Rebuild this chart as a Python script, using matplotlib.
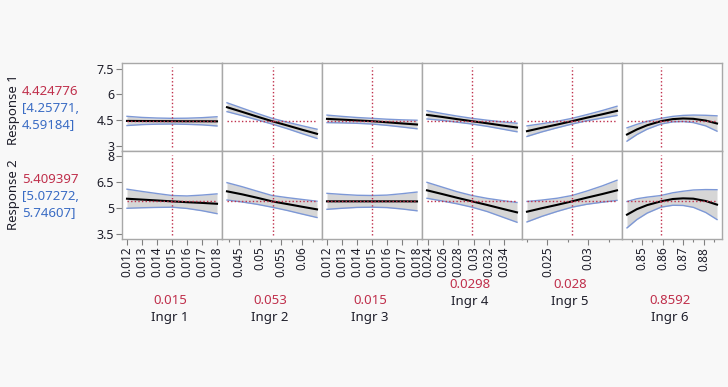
import matplotlib
matplotlib.use('Agg')
import matplotlib.pyplot as plt

plt.rcParams['font.family'] = ['Noto Sans', 'DejaVu Sans']

# ---------------- data ----------------
factors = ['Ingr 1', 'Ingr 2', 'Ingr 3', 'Ingr 4', 'Ingr 5', 'Ingr 6']
current_x = [0.015, 0.053, 0.015, 0.0298, 0.028, 0.8592]
current_x_labels = ['0.015', '0.053', '0.015', '0.0298', '0.028', '0.8592']
x_ranges = [(0.012, 0.018), (0.0421, 0.0635), (0.012, 0.018),
            (0.0239, 0.0357), (0.0225, 0.0335), (0.8427, 0.8865)]

responses = ['Response 1', 'Response 2']
resp_value = [4.424776, 5.409397]
resp_value_labels = ['4.424776', '5.409397']
resp_ci_labels = ['[4.25771,\n4.59184]', '[5.07272,\n5.74607]']
resp_ylim = [(2.68, 7.83), (3.24, 8.31)]
resp_yticks = [[3, 4.5, 6, 7.5], [3.5, 5, 6.5, 8]]
resp_yticklabels = [['3', '4.5', '6', '7.5'], ['3.5', '5', '6.5', '8']]

x_major = [
    [0.012, 0.013, 0.014, 0.015, 0.016, 0.017, 0.018],
    [0.045, 0.05, 0.055, 0.06],
    [0.012, 0.013, 0.014, 0.015, 0.016, 0.017, 0.018],
    [0.024, 0.026, 0.028, 0.03, 0.032, 0.034],
    [0.025, 0.03],
    [0.85, 0.86, 0.87, 0.88],
]
x_major_labels = [
    ['0.012', '0.013', '0.014', '0.015', '0.016', '0.017', '0.018'],
    ['0.045', '0.05', '0.055', '0.06'],
    ['0.012', '0.013', '0.014', '0.015', '0.016', '0.017', '0.018'],
    ['0.024', '0.026', '0.028', '0.03', '0.032', '0.034'],
    ['0.025', '0.03'],
    ['0.85', '0.86', '0.87', '0.88'],
]
x_minor = [
    [],
    [0.0425, 0.0475, 0.0525, 0.0575, 0.0625],
    [],
    [],
    [0.0225, 0.0275, 0.0325],
    [0.845, 0.855, 0.865, 0.875, 0.885],
]

# profile curves: x positions, predicted value, half-width of confidence band
ingr1_x = [0.012, 0.013, 0.014, 0.015, 0.016, 0.017, 0.018]
ingr2_x = [0.0421, 0.0457, 0.0492, 0.0528, 0.0564, 0.0599, 0.0635]
ingr3_x = [0.012, 0.013, 0.014, 0.015, 0.016, 0.017, 0.018]
ingr4_x = [0.0239, 0.0259, 0.0278, 0.0298, 0.0318, 0.0337, 0.0357]
ingr5_x = [0.0225, 0.0243, 0.0262, 0.0280, 0.0298, 0.0317, 0.0335]
ingr6_x = [0.8427, 0.8475, 0.8525, 0.8592, 0.8650, 0.8700, 0.8750, 0.8810, 0.8865]

# Response 1
r1_ingr1 = [4.44, 4.435, 4.43, 4.425, 4.42, 4.42, 4.415]
r1_ingr1_hw = [0.27, 0.21, 0.18, 0.167, 0.18, 0.21, 0.27]
r1_ingr2 = [5.243, 4.970, 4.698, 4.425, 4.178, 3.930, 3.685]
r1_ingr2_hw = [0.26, 0.22, 0.19, 0.167, 0.19, 0.23, 0.27]
r1_ingr3 = [4.561, 4.516, 4.470, 4.425, 4.361, 4.294, 4.230]
r1_ingr3_hw = [0.22, 0.19, 0.17, 0.167, 0.18, 0.21, 0.25]
r1_ingr4 = [4.795, 4.672, 4.548, 4.425, 4.302, 4.178, 4.055]
r1_ingr4_hw = [0.24, 0.20, 0.18, 0.167, 0.18, 0.21, 0.25]
r1_ingr5 = [3.841, 4.036, 4.230, 4.425, 4.627, 4.829, 5.029]
r1_ingr5_hw = [0.31, 0.24, 0.19, 0.167, 0.18, 0.22, 0.27]
r1_ingr6 = [3.646, 3.940, 4.187, 4.425, 4.546, 4.583, 4.563, 4.460, 4.289]
r1_ingr6_hw = [0.39, 0.30, 0.23, 0.167, 0.16, 0.18, 0.22, 0.31, 0.45]

# Response 2
r2_ingr1 = [5.56, 5.51, 5.46, 5.409, 5.36, 5.32, 5.27]
r2_ingr1_hw = [0.55, 0.47, 0.40, 0.337, 0.36, 0.45, 0.57]
r2_ingr2 = [5.986, 5.813, 5.620, 5.409, 5.255, 5.101, 4.947]
r2_ingr2_hw = [0.50, 0.44, 0.38, 0.337, 0.37, 0.42, 0.47]
r2_ingr3 = [5.41, 5.41, 5.41, 5.409, 5.41, 5.41, 5.405]
r2_ingr3_hw = [0.46, 0.40, 0.35, 0.337, 0.36, 0.44, 0.54]
r2_ingr4 = [6.044, 5.830, 5.620, 5.409, 5.200, 4.990, 4.774]
r2_ingr4_hw = [0.46, 0.40, 0.35, 0.337, 0.38, 0.47, 0.57]
r2_ingr5 = [4.813, 5.012, 5.210, 5.409, 5.620, 5.830, 6.044]
r2_ingr5_hw = [0.59, 0.47, 0.38, 0.337, 0.38, 0.47, 0.58]
r2_ingr6 = [4.64, 4.959, 5.192, 5.409, 5.544, 5.582, 5.563, 5.428, 5.22]
r2_ingr6_hw = [0.76, 0.60, 0.46, 0.337, 0.36, 0.41, 0.50, 0.66, 0.86]

xs = [ingr1_x, ingr2_x, ingr3_x, ingr4_x, ingr5_x, ingr6_x]
means = [[r1_ingr1, r1_ingr2, r1_ingr3, r1_ingr4, r1_ingr5, r1_ingr6],
         [r2_ingr1, r2_ingr2, r2_ingr3, r2_ingr4, r2_ingr5, r2_ingr6]]
hws = [[r1_ingr1_hw, r1_ingr2_hw, r1_ingr3_hw, r1_ingr4_hw, r1_ingr5_hw, r1_ingr6_hw],
       [r2_ingr1_hw, r2_ingr2_hw, r2_ingr3_hw, r2_ingr4_hw, r2_ingr5_hw, r2_ingr6_hw]]

# ---------------- styling ----------------
W, H = 728, 387
BG = '#f8f8f8'
RED = '#c0304c'
BLUE = '#3a6cc4'
BAND_EDGE = '#7d98d6'
BAND_FILL = '#d6d6d6'
SPINE = '#a8a8a8'
TXT = '#1e1e2a'

fig = plt.figure(figsize=(W / 100, H / 100), dpi=100, facecolor=BG)

left0, pw = 122, 100
row_top = [63, 151]
ph = 88

for r in range(2):
    for c in range(6):
        ax = fig.add_axes([(left0 + pw * c) / W, 1 - (row_top[r] + ph) / H, pw / W, ph / H])
        ax.set_facecolor('white')
        a, b = x_ranges[c]
        pad = (b - a) * 5 / 90
        ax.set_xlim(a - pad, b + pad)
        ax.set_ylim(*resp_ylim[r])
        x = xs[c]
        m = means[r][c]
        hw = hws[r][c]
        lo = [mi - h for mi, h in zip(m, hw)]
        hi = [mi + h for mi, h in zip(m, hw)]
        ax.fill_between(x, lo, hi, color=BAND_FILL, lw=0, zorder=1)
        ax.plot(x, lo, color=BAND_EDGE, lw=1.0, zorder=2)
        ax.plot(x, hi, color=BAND_EDGE, lw=1.0, zorder=2)
        ax.plot(x, m, color='black', lw=1.5, zorder=3)
        ax.plot([a, b], [resp_value[r], resp_value[r]], color=RED, lw=1.0,
                ls=(0, (1, 1.6)), zorder=4)
        ax.axvline(current_x[c], ymin=0.05, ymax=0.95, color=RED, lw=1.0,
                   ls=(0, (1, 1.6)), zorder=4)
        for s in ax.spines.values():
            s.set_color(SPINE)
            s.set_linewidth(1.0)
        # y ticks
        if c == 0:
            ax.set_yticks(resp_yticks[r])
            ax.set_yticklabels(resp_yticklabels[r], fontsize=9, color=TXT)
            ax.tick_params(axis='y', direction='out', length=4, width=0.8,
                           color='#808080', pad=1.5)
        else:
            ax.set_yticks([])
        # x ticks
        if r == 1:
            ax.set_xticks(x_major[c])
            ax.set_xticklabels(x_major_labels[c], rotation=90, fontsize=8.5, color=TXT)
            ax.set_xticks(x_minor[c], minor=True)
            ax.tick_params(axis='x', which='major', direction='out', length=4,
                           width=0.8, color='#808080', pad=1.5)
            ax.tick_params(axis='x', which='minor', direction='out', length=2.5,
                           width=0.8, color='#808080')
        else:
            ax.set_xticks([])

# response labels on the left
resp_y = [110, 195]
val_y = [91.7, 180]
ci_y = [116.5, 204.5]
for r in range(2):
    fig.text(13 / W, 1 - resp_y[r] / H, responses[r], rotation=90, ha='center',
             va='center', fontsize=9.5, color=TXT)
    fig.text(22 / W, 1 - val_y[r] / H, resp_value_labels[r], ha='left', va='center',
             fontsize=9.5, color=RED)
    fig.text(22 / W, 1 - ci_y[r] / H, resp_ci_labels[r], ha='left', va='center',
             fontsize=9.5, color=BLUE, linespacing=1.25)

# factor labels below
val_label_y = [300.5, 300.5, 300.5, 284.3, 284.3, 300.5]
for c in range(6):
    cx = (left0 + pw * c + 48) / W
    fig.text(cx, 1 - val_label_y[c] / H, current_x_labels[c], ha='center',
             va='center', fontsize=9.5, color=RED)
    fig.text(cx, 1 - (val_label_y[c] + 17.5) / H, factors[c], ha='center',
             va='center', fontsize=9.5, color=TXT)

fig.savefig('out.png', dpi=100, facecolor=BG)
